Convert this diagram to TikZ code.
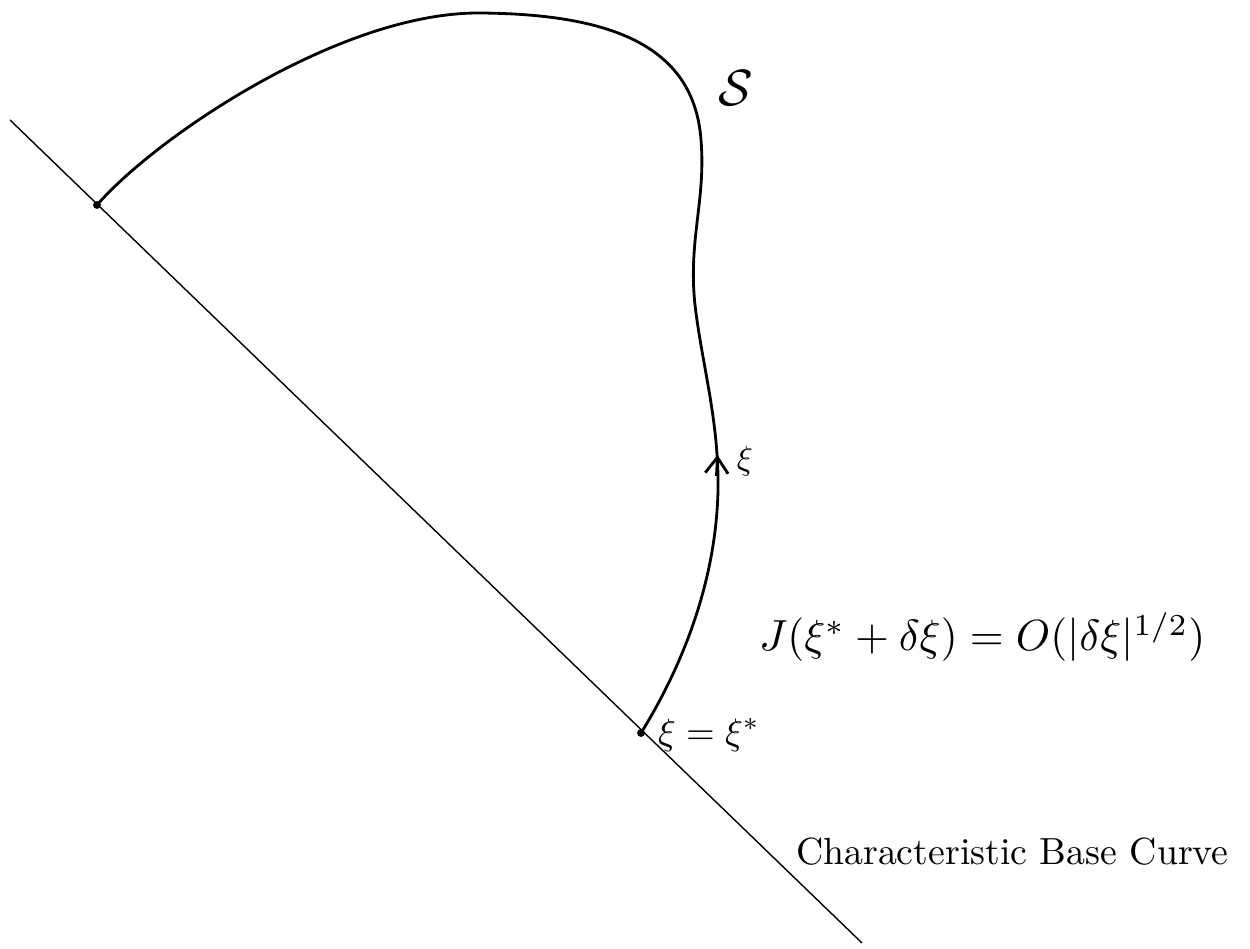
\documentclass[tikz,border=0pt]{standalone}
\usepackage{amsmath}
\usepackage{graphicx}
\usetikzlibrary{arrows.meta}
\begin{document}
\begin{tikzpicture}[x=0.02cm,y=-0.02cm,
  baseline/.style={line width=0.8pt},
  curveS/.style={line width=1.6pt, line cap=round},
  enddot/.style={circle, fill=black, inner sep=0pt, minimum size=4.5pt},
  lbl/.style={inner sep=1pt}]
\useasboundingbox (0,0) rectangle (1250,949);
\coordinate (L0) at (10,120);
\coordinate (L1) at (862,943);
\node[enddot] (P) at (97,205) {};
\node[enddot] (Q) at (641,733) {};
\draw[baseline] (L0) -- (L1);
\draw[curveS] (P.center) .. controls (155,138) and (340,12) .. (480,13)
  .. controls (610,14) and (694,45) .. (701,140)
  .. controls (706,200) and (688,240) .. (695,305)
  .. controls (702,365) and (719,420) .. (718,490)
  .. controls (716,585) and (680,670) .. (Q.center);
\coordinate (A0) at (716.5,476);
\coordinate (A1) at (717.5,455);
\draw[line width=1.6pt, -{Straight Barb[length=9pt,width=13pt]}] (A0) -- (A1);
\node[lbl] (S) at (736,88) {\scalebox{2.9}{$\mathcal{S}$}};
\node[lbl] (xi) at (745,461) {\scalebox{1.9}{$\xi$}};
\node[lbl, anchor=west] (xistar) at (656,735) {\scalebox{2.1}{$\xi=\xi^{*}$}};
\node[lbl, anchor=west] (J) at (757,637) {\scalebox{2.48}{$J(\xi^{*}+\delta\xi)=O(|\delta\xi|^{1/2})$}};
\node[lbl, anchor=west] (base) at (794,852) {\scalebox{2.15}{Characteristic Base Curve}};
\end{tikzpicture}
\end{document}
